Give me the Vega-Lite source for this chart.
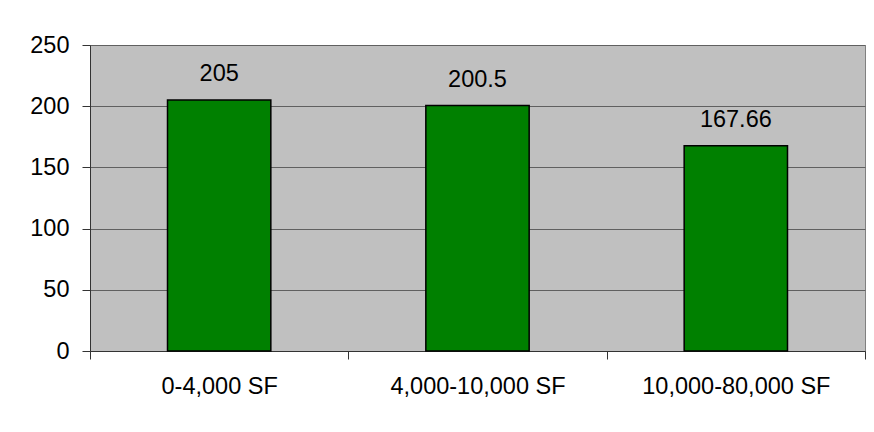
{
  "$schema": "https://vega.github.io/schema/vega-lite/v6.json",
  "autosize": "none",
  "width": 775,
  "height": 306,
  "padding": {"left": 90, "top": 45, "right": 9, "bottom": 81},
  "background": "white",
  "data": {
    "values": [
      {"size": "0-4,000 SF", "value": 205, "label": "205"},
      {"size": "4,000-10,000 SF", "value": 200.5, "label": "200.5"},
      {"size": "10,000-80,000 SF", "value": 167.66, "label": "167.66"}
    ]
  },
  "encoding": {
    "x": {
      "field": "size",
      "type": "nominal",
      "sort": null,
      "scale": {"paddingInner": 0, "paddingOuter": 0},
      "axis": {
        "title": null,
        "labelAngle": 0,
        "labelLimit": 0,
        "tickBand": "extent",
        "tickSize": 8,
        "tickColor": "#333333",
        "domainColor": "#333333",
        "labelFont": "Liberation Sans",
        "labelFontSize": 23.5,
        "labelColor": "#000000",
        "labelBaseline": "alphabetic",
        "labelPadding": 34,
        "grid": false
      }
    },
    "y": {
      "field": "value",
      "type": "quantitative",
      "scale": {"domain": [0, 250], "nice": false},
      "axis": {
        "title": null,
        "values": [0, 50, 100, 150, 200, 250],
        "tickSize": 8,
        "tickColor": "#333333",
        "domainColor": "#333333",
        "labelFont": "Liberation Sans",
        "labelFontSize": 23.5,
        "labelColor": "#000000",
        "labelPadding": 13,
        "grid": true,
        "gridColor": "#606060",
        "gridOpacity": 1
      }
    }
  },
  "layer": [
    {
      "mark": {"type": "bar", "width": {"band": 0.4}, "color": "#008000", "stroke": "#000000", "strokeWidth": 1.5}
    },
    {
      "mark": {"type": "text", "font": "Liberation Sans", "fontSize": 23.5, "color": "#000000", "baseline": "alphabetic", "dy": -19},
      "encoding": {"text": {"field": "label", "type": "nominal"}}
    }
  ],
  "config": {
    "view": {"fill": "#C0C0C0", "stroke": "#808080", "strokeWidth": 1}
  }
}
